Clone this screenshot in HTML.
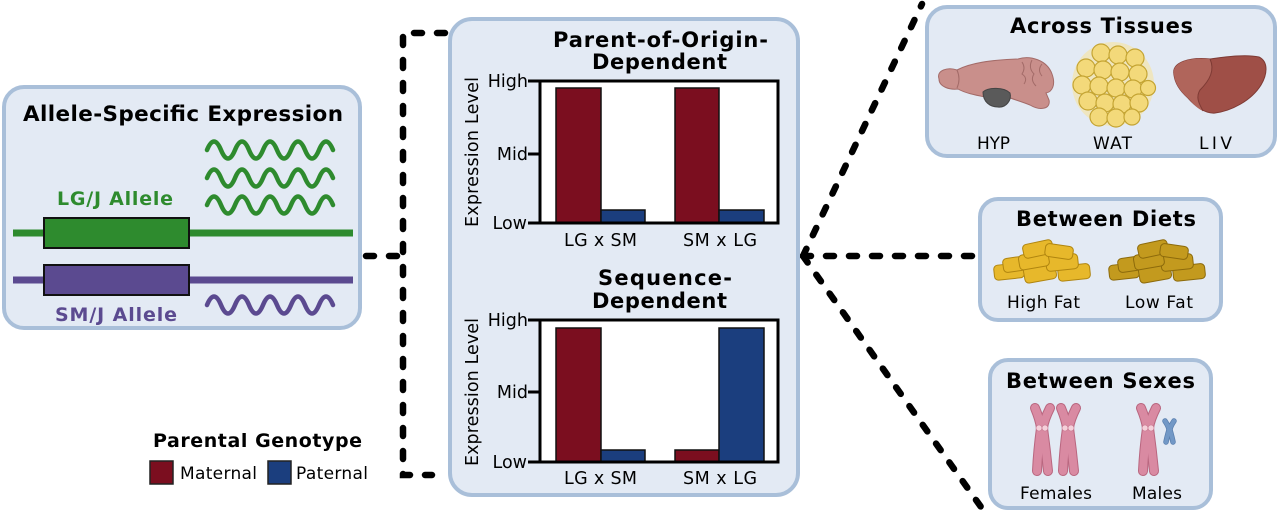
<!DOCTYPE html>
<html><head><meta charset="utf-8"><style>
html,body{margin:0;padding:0;background:#fff;}
svg{display:block;}
text{font-family:"DejaVu Sans","Liberation Sans",sans-serif;}
.b{font-weight:bold;}
</style></head><body>
<svg width="1280" height="515" viewBox="0 0 1280 515" xmlns="http://www.w3.org/2000/svg">
<rect width="1280" height="515" fill="#fff"/>

<!-- dashed connectors -->
<g fill="none" stroke="#000" stroke-width="6.5" stroke-linecap="round" stroke-dasharray="8 15">
  <path d="M 445 33 H 403 V 475 H 432"/>
  <path d="M 366 256 H 403"/>
  <path d="M 803 256 L 922 4"/>
  <path d="M 803 256 H 975"/>
  <path d="M 803 256 L 981 507"/>
</g>

<!-- Left box -->
<rect x="4" y="87" width="356" height="241" rx="20" fill="#e3eaf4" stroke="#a9bfd9" stroke-width="4"/>
<text class="b" x="23" y="121" font-size="21.5" textLength="320" lengthAdjust="spacing">Allele-Specific Expression</text>
<text class="b" x="57" y="205" font-size="19" fill="#2e8b2e" textLength="116" lengthAdjust="spacing">LG/J Allele</text>
<text class="b" x="55" y="321" font-size="19" fill="#5b4a90" textLength="122" lengthAdjust="spacing">SM/J Allele</text>
<g fill="none" stroke-width="4.5" stroke-linecap="round">
  <path d="M 207 150 q 7 -17 14 0 t 14 0 t 14 0 t 14 0 t 14 0 t 14 0 t 14 0 t 14 0 t 14 0" stroke="#2e8b2e"/>
  <path d="M 207 178 q 7 -17 14 0 t 14 0 t 14 0 t 14 0 t 14 0 t 14 0 t 14 0 t 14 0 t 14 0" stroke="#2e8b2e"/>
  <path d="M 207 205 q 7 -17 14 0 t 14 0 t 14 0 t 14 0 t 14 0 t 14 0 t 14 0 t 14 0 t 14 0" stroke="#2e8b2e"/>
  <path d="M 207 305 q 7 -17 14 0 t 14 0 t 14 0 t 14 0 t 14 0 t 14 0 t 14 0 t 14 0 t 14 0" stroke="#5b4a90"/>
</g>
<line x1="13" y1="233" x2="353" y2="233" stroke="#2e8b2e" stroke-width="7"/>
<rect x="44" y="218" width="145" height="30" fill="#2e8b2e" stroke="#111" stroke-width="2"/>
<line x1="13" y1="280" x2="353" y2="280" stroke="#5b4a90" stroke-width="7"/>
<rect x="44" y="265" width="145" height="30" fill="#5b4a90" stroke="#111" stroke-width="2"/>

<!-- Legend -->
<text class="b" x="153" y="447" font-size="19" textLength="209" lengthAdjust="spacing">Parental Genotype</text>
<rect x="150" y="461" width="23" height="23" fill="#7b0e1f" stroke="#222" stroke-width="1.5"/>
<text x="180" y="479" font-size="17" textLength="77" lengthAdjust="spacing">Maternal</text>
<rect x="268" y="461" width="23" height="23" fill="#1b3e7e" stroke="#222" stroke-width="1.5"/>
<text x="296" y="479" font-size="17" textLength="72" lengthAdjust="spacing">Paternal</text>

<!-- Center box -->
<rect x="450" y="19" width="348" height="476" rx="22" fill="#e3eaf4" stroke="#a9bfd9" stroke-width="4"/>
<text class="b" x="553" y="47" font-size="21" textLength="215" lengthAdjust="spacing">Parent-of-Origin-</text>
<text class="b" x="592" y="69" font-size="21" textLength="135" lengthAdjust="spacing">Dependent</text>
<!-- chart 1 -->
<rect x="540" y="81" width="238" height="142" fill="#fff"/>
<rect x="556" y="88" width="45" height="135" fill="#7b0e1f" stroke="#111" stroke-width="1.5"/>
<rect x="601" y="210" width="44" height="13" fill="#1b3e7e" stroke="#111" stroke-width="1.5"/>
<rect x="675" y="88" width="44" height="135" fill="#7b0e1f" stroke="#111" stroke-width="1.5"/>
<rect x="719" y="210" width="45" height="13" fill="#1b3e7e" stroke="#111" stroke-width="1.5"/>
<rect x="540" y="81" width="238" height="142" fill="none" stroke="#000" stroke-width="3"/>
<g stroke="#000" stroke-width="3"><line x1="528" y1="81" x2="540" y2="81"/><line x1="528" y1="154" x2="540" y2="154"/><line x1="528" y1="223" x2="540" y2="223"/></g>
<g font-size="17.5" text-anchor="end">
<text x="528" y="87">High</text><text x="528" y="160">Mid</text><text x="527" y="229">Low</text>
</g>
<text x="564" y="246" font-size="17.5" textLength="73" lengthAdjust="spacing">LG x SM</text>
<text x="683" y="246" font-size="17.5" textLength="74" lengthAdjust="spacing">SM x LG</text>
<text transform="translate(478,227) rotate(-90)" font-size="17.5" textLength="150" lengthAdjust="spacing">Expression Level</text>

<text class="b" x="598" y="285" font-size="21" textLength="134" lengthAdjust="spacing">Sequence-</text>
<text class="b" x="592" y="308" font-size="21" textLength="135" lengthAdjust="spacing">Dependent</text>
<!-- chart 2 -->
<rect x="540" y="320" width="238" height="142" fill="#fff"/>
<rect x="556" y="328" width="45" height="134" fill="#7b0e1f" stroke="#111" stroke-width="1.5"/>
<rect x="601" y="450" width="44" height="12" fill="#1b3e7e" stroke="#111" stroke-width="1.5"/>
<rect x="675" y="450" width="44" height="12" fill="#7b0e1f" stroke="#111" stroke-width="1.5"/>
<rect x="719" y="328" width="45" height="134" fill="#1b3e7e" stroke="#111" stroke-width="1.5"/>
<rect x="540" y="320" width="238" height="142" fill="none" stroke="#000" stroke-width="3"/>
<g stroke="#000" stroke-width="3"><line x1="528" y1="320" x2="540" y2="320"/><line x1="528" y1="392" x2="540" y2="392"/><line x1="528" y1="462" x2="540" y2="462"/></g>
<g font-size="17.5" text-anchor="end">
<text x="528" y="326">High</text><text x="528" y="398">Mid</text><text x="527" y="468">Low</text>
</g>
<text x="564" y="484" font-size="17.5" textLength="73" lengthAdjust="spacing">LG x SM</text>
<text x="683" y="484" font-size="17.5" textLength="74" lengthAdjust="spacing">SM x LG</text>
<text transform="translate(478,466) rotate(-90)" font-size="17.5" textLength="148" lengthAdjust="spacing">Expression Level</text>

<!-- Across Tissues -->
<rect x="927" y="7" width="348" height="149" rx="20" fill="#e3eaf4" stroke="#a9bfd9" stroke-width="4"/>
<text class="b" x="1010" y="33" font-size="21" textLength="183" lengthAdjust="spacing">Across Tissues</text>
<!-- brain -->
<path d="M 939 79 C 936 70, 948 67, 957 70 C 970 63, 990 60, 1018 59 C 1030 55, 1047 60, 1052 74 C 1056 85, 1052 92, 1046 93 L 1049 100 C 1051 109, 1040 111, 1030 105 C 1020 101, 1012 99, 1008 97 C 1000 101, 990 101, 985 97 C 975 95, 965 93, 958 89 C 950 90, 939 87, 939 79 Z" fill="#c98f8b" stroke="#a36b68" stroke-width="1"/>
<g fill="none" stroke="#a36b68" stroke-width="1"><path d="M 1022 62 q 4 6 0 12 q 6 4 2 10"/><path d="M 1032 60 q -4 8 2 14 q -4 6 2 12"/><path d="M 1042 64 q -5 6 0 12"/><path d="M 957 70 q 4 9 0 18"/></g>
<path d="M 983 92 C 988 87, 1004 87, 1010 93 C 1012 100, 1006 108, 998 107 C 990 107, 983 102, 983 92 Z" fill="#5a5a5a" stroke="#444" stroke-width="1"/>
<!-- fat -->
<ellipse cx="1113" cy="84" rx="41" ry="42" fill="#efe6c0"/>
<g fill="#f3d97a" stroke="#c4a433" stroke-width="1.2">
<circle cx="1101" cy="53" r="9"/><circle cx="1118" cy="55" r="9"/><circle cx="1135" cy="58" r="9"/>
<circle cx="1086" cy="68" r="9"/><circle cx="1103" cy="70" r="9"/><circle cx="1120" cy="72" r="9"/><circle cx="1138" cy="74" r="9"/>
<circle cx="1082" cy="85" r="9"/><circle cx="1099" cy="86" r="9"/><circle cx="1116" cy="88" r="9"/><circle cx="1133" cy="89" r="9"/><circle cx="1148" cy="88" r="7.5"/>
<circle cx="1088" cy="101" r="9"/><circle cx="1105" cy="103" r="9"/><circle cx="1122" cy="104" r="9"/><circle cx="1139" cy="103" r="9"/>
<circle cx="1099" cy="117" r="9"/><circle cx="1116" cy="118" r="9"/><circle cx="1132" cy="117" r="8"/>
</g>
<!-- liver -->
<path d="M 1174 75 C 1171 62, 1190 57, 1210 59 C 1225 57, 1245 54, 1259 57 C 1269 62, 1267 75, 1261 85 C 1251 101, 1231 111, 1215 113 C 1205 114, 1195 106, 1188 98 C 1180 91, 1175 83, 1174 75 Z" fill="#9f4f47" stroke="#7e3a34" stroke-width="1"/>
<path d="M 1174 75 C 1171 62, 1190 57, 1210 59 C 1215 70, 1210 80, 1200 90 C 1195 98, 1200 105, 1203 111 C 1196 108, 1192 102, 1188 98 C 1180 91, 1175 83, 1174 75 Z" fill="#b0655b"/>
<path d="M 1210 59 C 1215 70, 1210 80, 1200 90 C 1195 98, 1200 105, 1203 111" fill="none" stroke="#7e3a34" stroke-width="1"/>
<text x="977" y="149" font-size="17" textLength="33" lengthAdjust="spacing">HYP</text>
<text x="1093" y="149" font-size="17" textLength="39" lengthAdjust="spacing">WAT</text>
<text x="1199" y="149" font-size="17" textLength="33" lengthAdjust="spacing">LIV</text>

<!-- Between Diets -->
<rect x="980" y="199" width="241" height="121" rx="18" fill="#e3eaf4" stroke="#a9bfd9" stroke-width="4"/>
<text class="b" x="1016" y="226" font-size="21" textLength="180" lengthAdjust="spacing">Between Diets</text>
<g stroke="#b0850f" stroke-width="1" fill="#e7b82b">
  <rect x="994" y="264" width="30" height="15" rx="4" transform="rotate(-6 1009 271)"/>
  <rect x="1058" y="265" width="32" height="15" rx="4" transform="rotate(-6 1073 272)"/>
  <rect x="1003" y="257" width="28" height="14" rx="4" transform="rotate(-8 1017 264)"/>
  <rect x="1024" y="265" width="32" height="16" rx="4" transform="rotate(-10 1040 273)"/>
  <rect x="1046" y="255" width="32" height="15" rx="4" transform="rotate(-6 1062 262)"/>
  <rect x="1019" y="253" width="30" height="15" rx="4" transform="rotate(-10 1034 261)"/>
  <rect x="1023" y="242" width="30" height="14" rx="4" transform="rotate(-12 1038 249)"/>
  <rect x="1045" y="245" width="28" height="13" rx="4" transform="rotate(8 1059 252)"/>
</g>
<g stroke="#8c6a0b" stroke-width="1" fill="#c39a1e">
  <rect x="1109" y="264" width="30" height="15" rx="4" transform="rotate(-6 1124 271)"/>
  <rect x="1173" y="265" width="32" height="15" rx="4" transform="rotate(-6 1188 272)"/>
  <rect x="1118" y="257" width="28" height="14" rx="4" transform="rotate(-8 1132 264)"/>
  <rect x="1139" y="265" width="32" height="16" rx="4" transform="rotate(-10 1155 273)"/>
  <rect x="1161" y="255" width="32" height="15" rx="4" transform="rotate(-6 1177 262)"/>
  <rect x="1134" y="253" width="30" height="15" rx="4" transform="rotate(-10 1149 261)"/>
  <rect x="1138" y="242" width="30" height="14" rx="4" transform="rotate(-12 1153 249)"/>
  <rect x="1160" y="245" width="28" height="13" rx="4" transform="rotate(8 1174 252)"/>
</g>
<text x="1007" y="308" font-size="17" textLength="73" lengthAdjust="spacing">High Fat</text>
<text x="1125" y="308" font-size="17" textLength="68" lengthAdjust="spacing">Low Fat</text>

<!-- Between Sexes -->
<rect x="990" y="360" width="221" height="148" rx="18" fill="#e3eaf4" stroke="#a9bfd9" stroke-width="4"/>
<text class="b" x="1006" y="388" font-size="21" textLength="189" lengthAdjust="spacing">Between Sexes</text>
<g fill="none" stroke-linecap="round">
  <g stroke="#b9667f" stroke-width="10">
    <path d="M 1035 408 Q 1040 420 1041 428 Q 1038 450 1037 471"/><path d="M 1050 408 Q 1044 420 1043 428 Q 1046 450 1048 471"/>
    <path d="M 1061 408 Q 1066 420 1067 428 Q 1064 450 1063 471"/><path d="M 1076 408 Q 1070 420 1069 428 Q 1072 450 1074 471"/>
    <path d="M 1141 408 Q 1146 420 1147 428 Q 1144 450 1143 471"/><path d="M 1156 408 Q 1150 420 1149 428 Q 1152 450 1154 471"/>
  </g>
  <g stroke="#d98aa2" stroke-width="8">
    <path d="M 1035 408 Q 1040 420 1041 428 Q 1038 450 1037 471"/><path d="M 1050 408 Q 1044 420 1043 428 Q 1046 450 1048 471"/>
    <path d="M 1061 408 Q 1066 420 1067 428 Q 1064 450 1063 471"/><path d="M 1076 408 Q 1070 420 1069 428 Q 1072 450 1074 471"/>
    <path d="M 1141 408 Q 1146 420 1147 428 Q 1144 450 1143 471"/><path d="M 1156 408 Q 1150 420 1149 428 Q 1152 450 1154 471"/>
  </g>
  <path d="M 1165 421 Q 1169 427 1169 430 Q 1167 437 1166 442" stroke="#5a7fae" stroke-width="5.5"/>
  <path d="M 1174 421 Q 1170 427 1170 430 Q 1172 437 1173 442" stroke="#5a7fae" stroke-width="5.5"/>
  <path d="M 1165 421 Q 1169 427 1169 430 Q 1167 437 1166 442" stroke="#7298c6" stroke-width="4"/>
  <path d="M 1174 421 Q 1170 427 1170 430 Q 1172 437 1173 442" stroke="#7298c6" stroke-width="4"/>
</g>
<g fill="#f5d0da" stroke="#c77a92" stroke-width="0.6">
  <circle cx="1039" cy="428" r="3"/><circle cx="1045" cy="428" r="3"/>
  <circle cx="1065" cy="428" r="3"/><circle cx="1071" cy="428" r="3"/>
  <circle cx="1145" cy="428" r="3"/><circle cx="1151" cy="428" r="3"/>
</g>
<text x="1020" y="499" font-size="17" textLength="72" lengthAdjust="spacing">Females</text>
<text x="1132" y="499" font-size="17" textLength="50" lengthAdjust="spacing">Males</text>
</svg>
</body></html>
